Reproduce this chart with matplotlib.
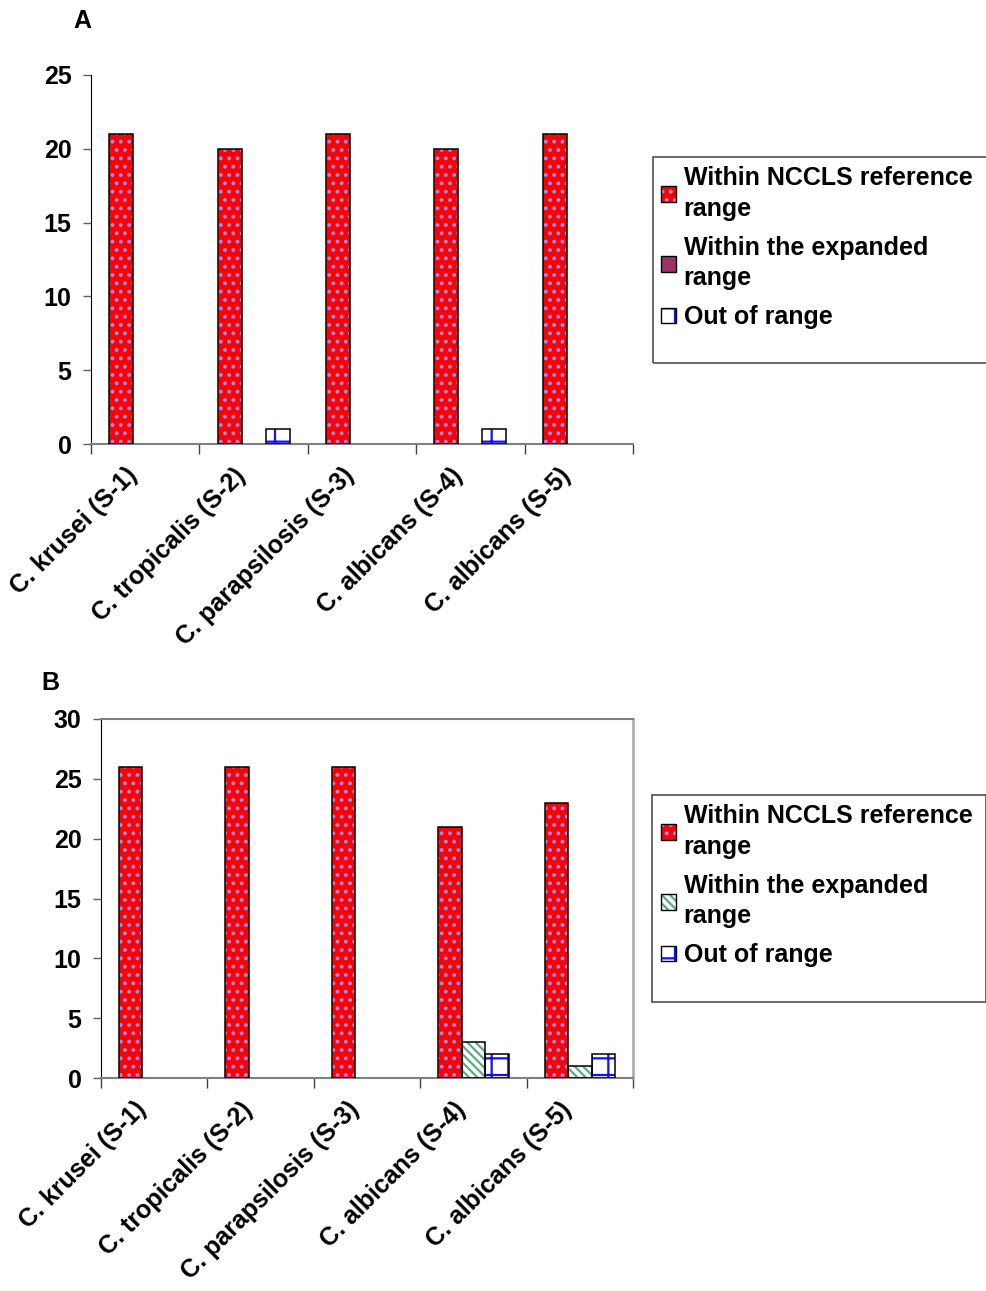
import numpy as np
import matplotlib.pyplot as plt
import matplotlib.transforms as mtransforms
from matplotlib.patches import Patch, Rectangle
from matplotlib.legend_handler import HandlerTuple

plt.rcParams['font.family'] = ['Liberation Sans', 'DejaVu Sans']
plt.rcParams['font.weight'] = 'bold'
plt.rcParams['hatch.linewidth'] = 1.6

species = ['C. krusei (S-1)', 'C. tropicalis (S-2)', 'C. parapsilosis (S-3)',
           'C. albicans (S-4)', 'C. albicans (S-5)']
series_labels = ['Within NCCLS reference\nrange', 'Within the expanded\nrange', 'Out of range']

# panel A
a_within = [21, 20, 21, 20, 21]
a_expanded = [0, 0, 0, 0, 0]
a_out = [0, 1, 0, 1, 0]

# panel B
b_within = [26, 26, 26, 21, 23]
b_expanded = [0, 0, 0, 3, 1]
b_out = [0, 0, 0, 2, 2]

W = 0.221
RED = dict(face='#ff0000', hatch='..', hcolor='#9a8cf2')
PURPLE = dict(face='#993366', hatch=None, hcolor='#993366')
GREEN = dict(face='white', hatch='\\\\\\\\', hcolor='#5aaa86')
BLUE = dict(face='white', hatch='+', hcolor='#1010ff')


def draw_series(ax, values, offset, st):
    v = np.asarray(values, dtype=float)
    x = np.arange(len(v)) + offset
    m = v > 0
    if not m.any():
        return
    ax.bar(x[m], v[m], width=W, color=st['face'], hatch=st['hatch'],
           edgecolor=st['hcolor'], linewidth=0, zorder=2)
    ax.bar(x[m], v[m], width=W, fill=False, edgecolor='black', linewidth=1.1, zorder=3)


def handle(st):
    p1 = Patch(facecolor=st['face'], hatch=st['hatch'], edgecolor=st['hcolor'], linewidth=0)
    p2 = Patch(fill=False, edgecolor='black', linewidth=1.0)
    return (p1, p2)


def panel(fig, rect, within, expanded, out, ymax, styles, boxed):
    ax = fig.add_axes(rect)
    draw_series(ax, within, -W, styles[0])
    draw_series(ax, expanded, 0, styles[1])
    draw_series(ax, out, W, styles[2])
    ax.set_xlim(-0.5, 4.5)
    ax.set_ylim(0, ymax)
    ax.set_yticks(np.arange(0, ymax + 1, 5))
    ax.tick_params(axis='y', labelsize=18, length=6, width=1, color='#606060', pad=8)
    ax.set_xticks(np.arange(-0.5, 5.5, 1))
    ax.set_xticklabels([])
    ax.tick_params(axis='x', which='major', length=7, width=1, color='#404040')
    ax.set_xticks(np.arange(5), minor=True)
    ax.set_xticklabels(species, minor=True, rotation=45, ha='right',
                       rotation_mode='anchor', fontsize=18)
    ax.tick_params(axis='x', which='minor', length=0, pad=14)
    shift = mtransforms.ScaledTranslation(-0.2, 0, fig.dpi_scale_trans)
    for lbl in ax.get_xticklabels(minor=True):
        lbl.set_transform(lbl.get_transform() + shift)
    ax.spines['left'].set_color('black')
    ax.spines['bottom'].set_color('#808080')
    ax.spines['bottom'].set_linewidth(1.5)
    if boxed:
        ax.spines['top'].set_color('#808080')
        ax.spines['top'].set_linewidth(1.5)
        ax.spines['right'].set_color('#b0b0b0')
        ax.spines['right'].set_linewidth(2)
    else:
        ax.spines['top'].set_visible(False)
        ax.spines['right'].set_visible(False)
    return ax


fig = plt.figure(figsize=(9.87, 12.91), dpi=100)
FW, FH = 987, 1291

panel(fig, [91 / FW, 1 - 444 / FH, 542 / FW, 369 / FH],
      a_within, a_expanded, a_out, 25, [RED, PURPLE, BLUE], False)
panel(fig, [101 / FW, 1 - 1078 / FH, 532 / FW, 359 / FH],
      b_within, b_expanded, b_out, 30, [RED, GREEN, BLUE], True)

fig.text(82 / FW, 1 - 21 / FH, 'A', ha='center', va='center', fontsize=18)
fig.text(50 / FW, 1 - 683 / FH, 'B', ha='center', va='center', fontsize=18)


def legend_box(styles, top_text, frame):
    hs = [handle(s) for s in styles]
    leg = fig.legend(hs, series_labels, handler_map={tuple: HandlerTuple(ndivide=1)},
                     loc='upper left', bbox_to_anchor=(661 / FW, 1 - top_text / FH),
                     frameon=False, fontsize=18, borderpad=0, borderaxespad=0,
                     handlelength=0.6, handleheight=0.6, handletextpad=0.3,
                     labelspacing=0.6)
    for t in leg.get_texts():
        t.set_linespacing(1.35)
    x0, y0, x1, y1 = frame
    fig.add_artist(Rectangle((x0 / FW, 1 - y1 / FH), (x1 - x0) / FW, (y1 - y0) / FH,
                             transform=fig.transFigure, fill=False,
                             edgecolor='#505050', linewidth=1.2))
    return leg


legend_box([RED, PURPLE, BLUE], 166, (653, 157, 1005, 363))
legend_box([RED, GREEN, BLUE], 804, (652, 795, 986, 1002))

plt.savefig('out.png', dpi=100)
